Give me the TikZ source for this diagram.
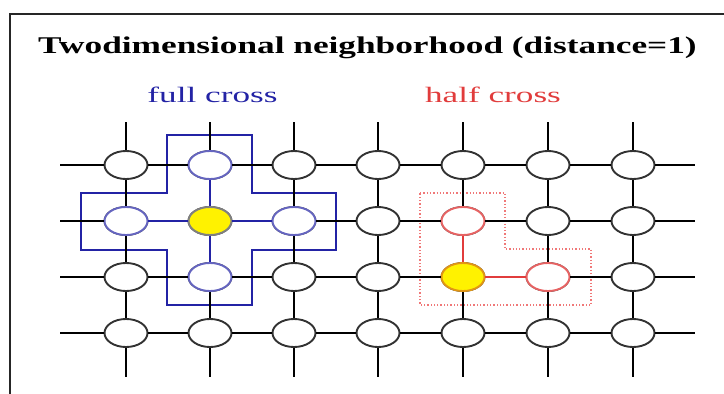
\documentclass[tikz,border=0pt]{standalone}
\usepackage{fontspec}
\setmainfont{Liberation Serif}
\usetikzlibrary{shapes.geometric}
\definecolor{crossblue}{RGB}{35,35,165}
\definecolor{halfred}{RGB}{225,60,60}
\definecolor{dotred}{RGB}{240,120,120}
\definecolor{noderim}{RGB}{50,50,50}
\definecolor{centerrim}{RGB}{225,150,20}
\tikzset{
  cell/.style={ellipse, draw=noderim, line width=1.9pt, fill=white, minimum width=43pt, minimum height=28pt, inner sep=0pt},
  bluecell/.style={cell, draw=crossblue!70},
  redcell/.style={cell, draw=halfred!80},
  bluecenter/.style={cell, fill=yellow, draw=gray},
  redcenter/.style={cell, fill=yellow, draw=centerrim},
  gridline/.style={line width=2pt, black},
  blueline/.style={line width=2pt, crossblue},
  redline/.style={line width=2pt, halfred},
  frameline/.style={line width=1.6pt, black!85},
}
\begin{document}
\begin{tikzpicture}[x=1pt,y=-1pt]
\useasboundingbox (0,0) rectangle (724,394);
\fill[white] (0,0) rectangle (724,394);
% frame
\coordinate (fbl) at (10,394);
\coordinate (ftl) at (10,14);
\coordinate (ftr) at (724,14);
\draw[frameline] (fbl) -- (ftl) -- (ftr);
% texts
\node[anchor=base, inner sep=0pt, xscale=1.47, font=\fontsize{24}{28}\selectfont\bfseries] (title) at (367.5,53) {Twodimensional neighborhood (distance=1)};
\node[anchor=base, inner sep=0pt, text=crossblue, xscale=1.6, font=\fontsize{22}{26}\selectfont] (fulllab) at (212.5,102) {full cross};
\node[anchor=base, inner sep=0pt, text=halfred, xscale=1.6, font=\fontsize{22}{26}\selectfont] (halflab) at (493,102) {half cross};
% polygons
\draw[line width=1.8pt, crossblue] (167,135) -- (252,135) -- (252,193) -- (336,193) -- (336,250) -- (252,250) -- (252,305) -- (167,305) -- (167,250) -- (81,250) -- (81,193) -- (167,193) -- cycle;
\draw[line width=1.3pt, dotred, dotted] (420,193) -- (505,193) -- (505,249) -- (591,249) -- (591,305) -- (420,305) -- cycle;
% node positions
\def\colx{{126,210,294,378,463,548,633}}
% nodes
\foreach \c in {1,...,7} {
  \pgfmathsetmacro{\xx}{\colx[\c-1]}
  \foreach \r in {1,...,4} {
    \node[cell] (n-\c-\r) at (\xx,{165+56*(\r-1)}) {};
  }
  \coordinate (T-\c) at (\xx,122);
  \coordinate (B-\c) at (\xx,377);
}
\node[bluecell] at (n-2-1) {};
\node[bluecell] at (n-1-2) {};
\node[bluecell] at (n-3-2) {};
\node[bluecell] at (n-2-3) {};
\node[bluecenter] at (n-2-2) {};
\node[redcell] at (n-5-2) {};
\node[redcell] at (n-6-3) {};
\node[redcenter] at (n-5-3) {};
% stubs
\foreach \r in {1,...,4} {
  \coordinate (L-\r) at (60,{165+56*(\r-1)});
  \coordinate (R-\r) at (695,{165+56*(\r-1)});
}
% horizontal connectors
\foreach \r in {1,...,4} {
  \draw[gridline] (L-\r) -- (n-1-\r);
  \draw[gridline] (n-7-\r) -- (R-\r);
}
\foreach \r in {1,...,4} {
  \foreach \c [evaluate=\c as \d using int(\c+1)] in {1,...,6} {
    \draw[gridline] (n-\c-\r) -- (n-\d-\r);
  }
}
% vertical connectors
\foreach \c in {1,...,7} {
  \draw[gridline] (T-\c) -- (n-\c-1);
  \draw[gridline] (n-\c-4) -- (B-\c);
  \foreach \r [evaluate=\r as \s using int(\r+1)] in {1,...,3} {
    \draw[gridline] (n-\c-\r) -- (n-\c-\s);
  }
}
% coloured connectors
\draw[blueline] (n-2-2) -- (n-2-1);
\draw[blueline] (n-2-2) -- (n-1-2);
\draw[blueline] (n-2-2) -- (n-3-2);
\draw[blueline] (n-2-2) -- (n-2-3);
\draw[redline] (n-5-3) -- (n-5-2);
\draw[redline] (n-5-3) -- (n-6-3);
\end{tikzpicture}
\end{document}
